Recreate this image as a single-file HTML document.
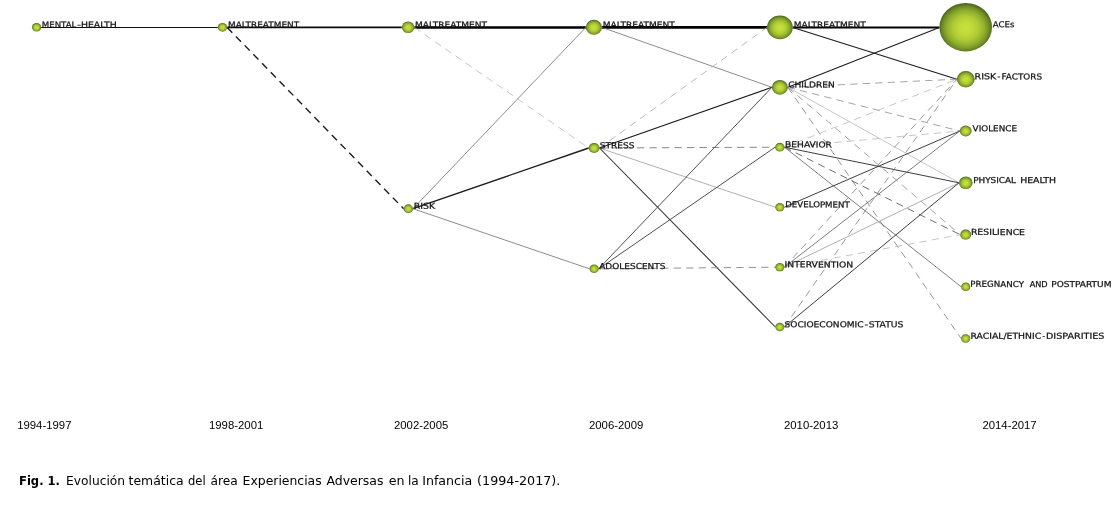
<!DOCTYPE html>
<html lang="es"><head><meta charset="utf-8"><title>Fig. 1</title>
<style>
html,body{margin:0;padding:0;background:#fff;}
body{width:1116px;height:515px;position:relative;overflow:hidden;}
svg{position:absolute;left:0;top:0;display:block;will-change:transform;}
.lb{font-family:"DejaVu Sans","Liberation Sans",sans-serif;font-size:8.2px;fill:#141414;stroke:#141414;stroke-width:0.25px;text-rendering:geometricPrecision;}
.yr{font-family:"Liberation Sans",sans-serif;font-size:11.35px;fill:#000;}
.cap{font-family:"DejaVu Sans","Liberation Sans",sans-serif;font-size:12px;fill:#000;}
</style></head><body>
<svg width="1116" height="515" viewBox="0 0 1116 515">
<defs>
<radialGradient id="g" cx="50%" cy="52%" r="50%">
<stop offset="0" stop-color="#c7e13c"/>
<stop offset="0.25" stop-color="#c0db3a"/>
<stop offset="0.5" stop-color="#aeca35"/>
<stop offset="0.72" stop-color="#91ae2d"/>
<stop offset="0.88" stop-color="#718f27"/>
<stop offset="1" stop-color="#4f6b1c"/>
</radialGradient>
</defs>
<g fill="none" stroke-linecap="butt">
<line x1="41.20" y1="27.45" x2="217.80" y2="27.45" stroke="#111" stroke-width="1.1"/>
<line x1="227.20" y1="27.45" x2="401.80" y2="27.45" stroke="#0a0a0a" stroke-width="1.7"/>
<line x1="227.20" y1="27.45" x2="403.60" y2="208.70" stroke="#1c1c1c" stroke-width="1.4" stroke-dasharray="7.3 5.2"/>
<line x1="414.40" y1="27.45" x2="585.75" y2="27.45" stroke="#000" stroke-width="2.4"/>
<line x1="414.40" y1="27.45" x2="588.70" y2="148.00" stroke="#b8b8b8" stroke-width="0.8" stroke-dasharray="7.3 5.2"/>
<line x1="413.00" y1="208.70" x2="585.75" y2="27.45" stroke="#6e6e6e" stroke-width="0.8"/>
<line x1="413.00" y1="208.70" x2="588.70" y2="148.00" stroke="#1c1c1c" stroke-width="1.4"/>
<line x1="413.00" y1="208.70" x2="589.50" y2="268.80" stroke="#6e6e6e" stroke-width="0.8"/>
<line x1="602.05" y1="27.45" x2="767.00" y2="27.45" stroke="#000" stroke-width="2.75"/>
<line x1="602.05" y1="27.45" x2="771.95" y2="87.30" stroke="#6e6e6e" stroke-width="0.8"/>
<line x1="599.50" y1="148.00" x2="767.00" y2="27.45" stroke="#adadad" stroke-width="0.85" stroke-dasharray="7.3 5.2"/>
<line x1="599.50" y1="148.00" x2="771.95" y2="87.30" stroke="#1c1c1c" stroke-width="1.15"/>
<line x1="599.50" y1="148.00" x2="775.10" y2="147.20" stroke="#7a7a7a" stroke-width="0.9" stroke-dasharray="7.3 5.2"/>
<line x1="599.50" y1="148.00" x2="775.30" y2="207.20" stroke="#9a9a9a" stroke-width="0.8"/>
<line x1="599.50" y1="148.00" x2="775.30" y2="327.00" stroke="#2e2e2e" stroke-width="1.05"/>
<line x1="598.70" y1="268.80" x2="771.95" y2="87.30" stroke="#505050" stroke-width="1.0"/>
<line x1="598.70" y1="268.80" x2="775.10" y2="147.20" stroke="#505050" stroke-width="1.0"/>
<line x1="598.70" y1="268.80" x2="775.30" y2="267.20" stroke="#858585" stroke-width="0.9" stroke-dasharray="7.3 5.2"/>
<line x1="792.80" y1="27.45" x2="939.40" y2="27.45" stroke="#000" stroke-width="1.9"/>
<line x1="792.80" y1="27.45" x2="956.90" y2="79.20" stroke="#1c1c1c" stroke-width="1.1"/>
<line x1="787.85" y1="87.30" x2="939.40" y2="27.45" stroke="#1c1c1c" stroke-width="1.1"/>
<line x1="787.85" y1="87.30" x2="956.90" y2="79.20" stroke="#9a9a9a" stroke-width="0.9" stroke-dasharray="7.3 5.2"/>
<line x1="787.85" y1="87.30" x2="959.80" y2="131.00" stroke="#9a9a9a" stroke-width="0.9" stroke-dasharray="7.3 5.2"/>
<line x1="787.85" y1="87.30" x2="959.00" y2="182.80" stroke="#b8b8b8" stroke-width="0.8"/>
<line x1="787.85" y1="87.30" x2="960.20" y2="234.70" stroke="#9a9a9a" stroke-width="0.9" stroke-dasharray="7.3 5.2"/>
<line x1="787.85" y1="87.30" x2="961.10" y2="338.50" stroke="#8c8c8c" stroke-width="0.9" stroke-dasharray="7.3 5.2"/>
<line x1="784.50" y1="147.20" x2="956.90" y2="79.20" stroke="#b8b8b8" stroke-width="0.8" stroke-dasharray="7.3 5.2"/>
<line x1="784.50" y1="147.20" x2="959.80" y2="131.00" stroke="#b8b8b8" stroke-width="0.8" stroke-dasharray="7.3 5.2"/>
<line x1="784.50" y1="147.20" x2="959.00" y2="182.80" stroke="#333" stroke-width="0.95"/>
<line x1="784.50" y1="147.20" x2="960.20" y2="234.70" stroke="#6e6e6e" stroke-width="1.0" stroke-dasharray="7.3 5.2"/>
<line x1="784.50" y1="147.20" x2="961.10" y2="286.70" stroke="#686868" stroke-width="0.85"/>
<line x1="784.30" y1="207.20" x2="959.80" y2="131.00" stroke="#333" stroke-width="0.95"/>
<line x1="784.30" y1="267.20" x2="956.90" y2="79.20" stroke="#888" stroke-width="0.85" stroke-dasharray="7.3 5.2"/>
<line x1="784.30" y1="267.20" x2="959.80" y2="131.00" stroke="#666" stroke-width="0.85"/>
<line x1="784.30" y1="267.20" x2="959.00" y2="182.80" stroke="#9a9a9a" stroke-width="0.8"/>
<line x1="784.30" y1="267.20" x2="960.20" y2="234.70" stroke="#b8b8b8" stroke-width="0.8" stroke-dasharray="7.3 5.2"/>
<line x1="784.30" y1="327.00" x2="956.90" y2="79.20" stroke="#888" stroke-width="0.85" stroke-dasharray="7.3 5.2"/>
<line x1="784.30" y1="327.00" x2="959.00" y2="182.80" stroke="#333" stroke-width="0.95"/>
</g>
<g fill="url(#g)">
<ellipse cx="36.6" cy="27.3" rx="4.6" ry="4.25"/>
<ellipse cx="222.5" cy="27.3" rx="4.7" ry="4.34"/>
<ellipse cx="408.1" cy="27.3" rx="6.3" ry="5.81"/>
<ellipse cx="408.3" cy="208.7" rx="4.7" ry="4.34"/>
<ellipse cx="593.9" cy="27.3" rx="8.15" ry="7.52"/>
<ellipse cx="594.1" cy="148.0" rx="5.4" ry="4.98"/>
<ellipse cx="594.1" cy="268.8" rx="4.6" ry="4.25"/>
<ellipse cx="779.9" cy="27.3" rx="12.9" ry="11.91"/>
<ellipse cx="779.9" cy="87.3" rx="7.95" ry="7.34"/>
<ellipse cx="779.8" cy="147.2" rx="4.7" ry="4.34"/>
<ellipse cx="779.8" cy="207.2" rx="4.5" ry="4.15"/>
<ellipse cx="779.8" cy="267.2" rx="4.5" ry="4.15"/>
<ellipse cx="779.8" cy="327.0" rx="4.5" ry="4.15"/>
<ellipse cx="965.7" cy="27.2" rx="26.3" ry="24.27"/>
<ellipse cx="965.8" cy="79.2" rx="8.9" ry="8.21"/>
<ellipse cx="965.7" cy="131.0" rx="5.9" ry="5.45"/>
<ellipse cx="965.8" cy="182.8" rx="6.8" ry="6.28"/>
<ellipse cx="965.7" cy="234.7" rx="5.5" ry="5.08"/>
<ellipse cx="965.7" cy="286.7" rx="4.6" ry="4.25"/>
<ellipse cx="965.7" cy="338.5" rx="4.6" ry="4.25"/>
</g>
<g class="lb">
<text transform="translate(41.75,27.45) rotate(0.05)"><tspan x="0.00" textLength="34.65" lengthAdjust="spacingAndGlyphs">MENTAL</tspan><tspan x="35.40" textLength="3.70" lengthAdjust="spacingAndGlyphs">-</tspan><tspan x="39.15" textLength="35.95" lengthAdjust="spacingAndGlyphs">HEALTH</tspan></text>
<text transform="translate(228.00,27.45) rotate(0.05)" textLength="71.15" lengthAdjust="spacingAndGlyphs">MALTREATMENT</text>
<text transform="translate(414.95,27.45) rotate(0.05)" textLength="72.05" lengthAdjust="spacingAndGlyphs">MALTREATMENT</text>
<text transform="translate(413.75,208.85) rotate(0.05)" textLength="21.45" lengthAdjust="spacingAndGlyphs">RISK</text>
<text transform="translate(602.75,27.45) rotate(0.05)" textLength="72.05" lengthAdjust="spacingAndGlyphs">MALTREATMENT</text>
<text transform="translate(599.75,148.15) rotate(0.05)" textLength="34.70" lengthAdjust="spacingAndGlyphs">STRESS</text>
<text transform="translate(599.20,268.95) rotate(0.05)" textLength="66.25" lengthAdjust="spacingAndGlyphs">ADOLESCENTS</text>
<text transform="translate(793.75,27.45) rotate(0.05)" textLength="72.05" lengthAdjust="spacingAndGlyphs">MALTREATMENT</text>
<text transform="translate(788.20,87.45) rotate(0.05)" textLength="46.50" lengthAdjust="spacingAndGlyphs">CHILDREN</text>
<text transform="translate(785.10,147.35) rotate(0.05)" textLength="46.75" lengthAdjust="spacingAndGlyphs">BEHAVIOR</text>
<text transform="translate(785.20,207.35) rotate(0.05)" textLength="64.55" lengthAdjust="spacingAndGlyphs">DEVELOPMENT</text>
<text transform="translate(784.55,267.35) rotate(0.05)" textLength="68.75" lengthAdjust="spacingAndGlyphs">INTERVENTION</text>
<text transform="translate(784.55,327.15) rotate(0.05)"><tspan x="0.00" textLength="79.10" lengthAdjust="spacingAndGlyphs">SOCIOECONOMIC</tspan><tspan x="79.85" textLength="3.70" lengthAdjust="spacingAndGlyphs">-</tspan><tspan x="84.25" textLength="34.65" lengthAdjust="spacingAndGlyphs">STATUS</tspan></text>
<text transform="translate(992.75,27.35) rotate(0.05)" textLength="21.70" lengthAdjust="spacingAndGlyphs">ACEs</text>
<text transform="translate(974.55,79.35) rotate(0.05)"><tspan x="0.00" textLength="21.65" lengthAdjust="spacingAndGlyphs">RISK</tspan><tspan x="22.65" textLength="3.25" lengthAdjust="spacingAndGlyphs">-</tspan><tspan x="27.00" textLength="40.45" lengthAdjust="spacingAndGlyphs">FACTORS</tspan></text>
<text transform="translate(972.60,131.15) rotate(0.05)" textLength="44.40" lengthAdjust="spacingAndGlyphs">VIOLENCE</text>
<text transform="translate(973.15,182.95) rotate(0.05)"><tspan x="0.00" textLength="42.80" lengthAdjust="spacingAndGlyphs">PHYSICAL</tspan> <tspan x="47.00" textLength="35.95" lengthAdjust="spacingAndGlyphs">HEALTH</tspan></text>
<text transform="translate(970.90,234.85) rotate(0.05)" textLength="54.10" lengthAdjust="spacingAndGlyphs">RESILIENCE</text>
<text transform="translate(970.35,286.85) rotate(0.05)"><tspan x="0.00" textLength="53.60" lengthAdjust="spacingAndGlyphs">PREGNANCY</tspan> <tspan x="59.30" textLength="18.00" lengthAdjust="spacingAndGlyphs">AND</tspan> <tspan x="80.85" textLength="60.25" lengthAdjust="spacingAndGlyphs">POSTPARTUM</tspan></text>
<text transform="translate(970.55,338.65) rotate(0.05)"><tspan x="0.00" textLength="70.65" lengthAdjust="spacingAndGlyphs">RACIAL/ETHNIC</tspan><tspan x="71.85" textLength="2.60" lengthAdjust="spacingAndGlyphs">-</tspan><tspan x="75.40" textLength="58.50" lengthAdjust="spacingAndGlyphs">DISPARITIES</tspan></text>
</g>
<g class="yr">
<text x="17.2" y="429">1994-1997</text>
<text x="209.0" y="429">1998-2001</text>
<text x="394.0" y="429">2002-2005</text>
<text x="589.0" y="429">2006-2009</text>
<text x="784.0" y="429">2010-2013</text>
<text x="982.4" y="429">2014-2017</text>
</g>
<text class="cap" x="19.0" y="485" textLength="41.0" lengthAdjust="spacingAndGlyphs" font-weight="bold">Fig. 1.</text>
<text class="cap" y="485"><tspan x="66.10" textLength="59.00" lengthAdjust="spacingAndGlyphs">Evolución</tspan> <tspan x="128.55" textLength="55.05" lengthAdjust="spacingAndGlyphs">temática</tspan> <tspan x="188.00" textLength="17.70" lengthAdjust="spacingAndGlyphs">del</tspan> <tspan x="210.50" textLength="27.20" lengthAdjust="spacingAndGlyphs">área</tspan> <tspan x="242.62" textLength="79.08" lengthAdjust="spacingAndGlyphs">Experiencias</tspan> <tspan x="326.45" textLength="57.05" lengthAdjust="spacingAndGlyphs">Adversas</tspan> <tspan x="388.75" textLength="15.80" lengthAdjust="spacingAndGlyphs">en</tspan> <tspan x="407.90" textLength="10.80" lengthAdjust="spacingAndGlyphs">la</tspan> <tspan x="422.20" textLength="50.10" lengthAdjust="spacingAndGlyphs">Infancia</tspan> <tspan x="477.10" textLength="83.25" lengthAdjust="spacingAndGlyphs">(1994-2017).</tspan></text>
</svg>
</body></html>
